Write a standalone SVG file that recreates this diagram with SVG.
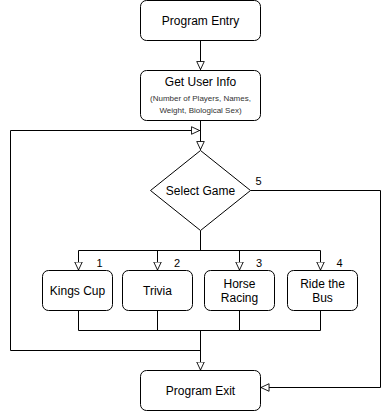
<svg xmlns="http://www.w3.org/2000/svg" width="391" height="412" viewBox="0 0 391 412">
  <style>
    .box { fill: #ffffff; stroke: #000000; stroke-width: 1; }
    .edge { fill: none; stroke: #000000; stroke-width: 1; }
    .lbl { font-family: "Liberation Sans", Arial, sans-serif; font-size: 12px; fill: #000000; text-anchor: middle; }
    .sub { font-family: "Liberation Sans", Arial, sans-serif; font-size: 8px; fill: #333333; text-anchor: middle; }
    .num { font-family: "Liberation Sans", Arial, sans-serif; font-size: 11px; fill: #000000; text-anchor: middle; }
  </style>
  <defs>
    <marker id="open" viewBox="0 0 10 10" refX="10" refY="5" markerWidth="9" markerHeight="9" markerUnits="userSpaceOnUse" orient="auto">
      <path d="M0.5,0.8 L9.5,5 L0.5,9.2 Z" fill="#ffffff" stroke="#000000" stroke-width="1"/>
    </marker>
  </defs>
  <rect width="391" height="412" fill="#ffffff"/>

  <g id="connectors">
    <path class="edge" d="M200.5,40.5 V70" marker-end="url(#open)"/>
    <path class="edge" d="M200.5,120.5 V150" marker-end="url(#open)"/>
    <path class="edge" d="M200,350.5 H10.5 V130.5 H200" marker-end="url(#open)"/>
    <path class="edge" d="M200.5,230.5 V250.5"/>
    <path class="edge" d="M78.5,250.5 H320.5"/>
    <path class="edge" d="M78.5,250.5 V270.5" marker-end="url(#open)"/>
    <path class="edge" d="M157.5,250.5 V270.5" marker-end="url(#open)"/>
    <path class="edge" d="M239.5,250.5 V270.5" marker-end="url(#open)"/>
    <path class="edge" d="M320.5,250.5 V270.5" marker-end="url(#open)"/>
    <path class="edge" d="M78.5,310.5 V330.5 M157.5,310.5 V330.5 M239.5,310.5 V330.5 M320.5,310.5 V330.5 M78.5,330.5 H320.5"/>
    <path class="edge" d="M200.5,330.5 V370.5" marker-end="url(#open)"/>
    <path class="edge" d="M250.5,190.5 H380.5 V387.5 H260.5" marker-end="url(#open)"/>
    <text class="num" x="99.5" y="267">1</text>
    <text class="num" x="177" y="267">2</text>
    <text class="num" x="259" y="267">3</text>
    <text class="num" x="339.5" y="267">4</text>
    <text class="num" x="258.5" y="185">5</text>
  </g>

  <g id="program-entry">
    <rect class="box" x="140.5" y="0.5" width="120" height="40" rx="6"/>
    <text class="lbl" x="200.5" y="24.5">Program Entry</text>
  </g>

  <g id="get-user-info">
    <rect class="box" x="140.5" y="70.5" width="120" height="50" rx="6"/>
    <text class="lbl" x="200.5" y="86">Get User Info</text>
    <text class="sub" x="200.5" y="101">(Number of Players, Names,</text>
    <text class="sub" x="200.5" y="113">Weight, Biological Sex)</text>
  </g>

  <g id="select-game">
    <path class="box" d="M200.5,150.5 L250.5,190.5 L200.5,230.5 L150.5,190.5 Z"/>
    <text class="lbl" x="200.5" y="194.5">Select Game</text>
  </g>

  <g id="kings-cup">
    <rect class="box" x="42.5" y="270.5" width="70" height="40" rx="6"/>
    <text class="lbl" x="77.5" y="294.5">Kings Cup</text>
  </g>

  <g id="trivia">
    <rect class="box" x="122.5" y="270.5" width="70" height="40" rx="6"/>
    <text class="lbl" x="157.5" y="294.5">Trivia</text>
  </g>

  <g id="horse-racing">
    <rect class="box" x="204.5" y="270.5" width="70" height="40" rx="6"/>
    <text class="lbl" x="239.5" y="287.5">Horse</text>
    <text class="lbl" x="239.5" y="301.5">Racing</text>
  </g>

  <g id="ride-the-bus">
    <rect class="box" x="287.5" y="270.5" width="70" height="40" rx="6"/>
    <text class="lbl" x="322.5" y="287.5">Ride the</text>
    <text class="lbl" x="322.5" y="301.5">Bus</text>
  </g>

  <g id="program-exit">
    <rect class="box" x="140.5" y="370.5" width="120" height="40" rx="6"/>
    <text class="lbl" x="200.5" y="394.5">Program Exit</text>
  </g>
</svg>
